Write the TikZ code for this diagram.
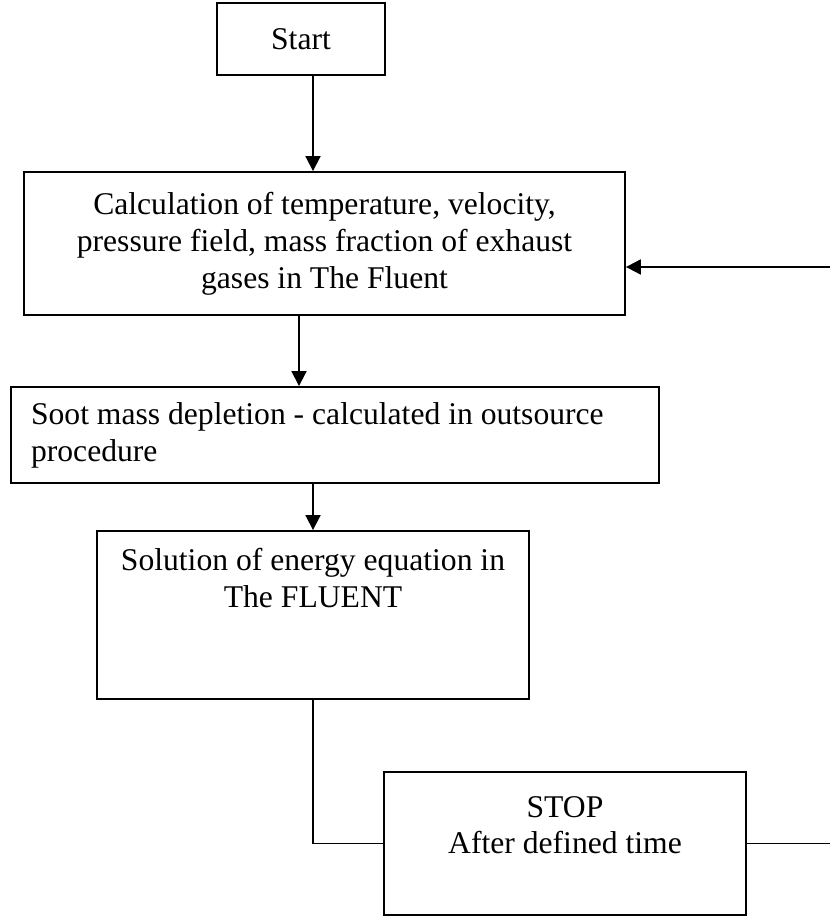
\documentclass[tikz,border=0pt]{standalone}
\usepackage{fontspec}
\setmainfont{Liberation Serif}
\usetikzlibrary{arrows.meta,positioning}

\begin{document}
\begin{tikzpicture}[x=0.02cm,y=-0.02cm, every node/.style={font=\fontsize{18}{21}\selectfont}]

\tikzset{stepbox/.style={draw, line width=1.1pt, align=center, inner sep=0pt},
link/.style={line width=1.1pt},
%filled heads as in the chart
arrowlink/.style={link, -{Triangle[length=8.5pt,width=8.5pt]}}}

\newcommand{\flowaxis}{313}
\newcommand{\backlevel}{267}

\useasboundingbox (0,0) rectangle (829,918);

\node [stepbox, minimum width=3.36cm, minimum height=1.44cm] (start) at (301,39) {Start};

\node [stepbox, minimum width=12.02cm, minimum height=2.86cm] (calc) at (324.5,243.5) {Calculation of temperature, velocity,\\pressure field, mass fraction of exhaust\\gases in The Fluent};

\node [stepbox, align=flush left, inner xsep=0.4cm, text width=12.16cm, minimum height=1.92cm] (soot) at (335,435) {Soot mass depletion - calculated in outsource\\procedure};

\node [stepbox, minimum width=8.64cm, minimum height=3.36cm] (sol) at (313,615) {Solution of energy equation in\\The FLUENT\\~\\~};

\node [stepbox, minimum width=7.24cm, minimum height=2.86cm] (stop) at (565,843.5) {STOP\\After defined time\\~};

\coordinate (axis) at (\flowaxis,0);
\coordinate (back) at (832,\backlevel);

\draw [arrowlink] (start.south -| axis) -- (calc.north -| axis);
\draw [arrowlink] ([xshift=-0.51cm]calc.south) -- ([xshift=-0.51cm]calc.south |- soot.north);
\draw [arrowlink] (soot.south -| axis) -- (sol.north -| axis);
\draw [link] (sol.south -| axis) |- (stop.west);
\draw [arrowlink] (stop.east) -| (back) -- (calc.east |- back);

\end{tikzpicture}
\end{document}
